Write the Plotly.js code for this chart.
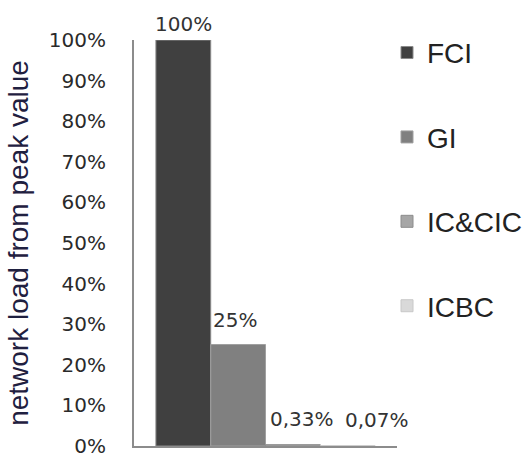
<!DOCTYPE html>
<html>
<head>
<meta charset="utf-8">
<script src="https://cdn.plot.ly/plotly-3.0.1.min.js"></script>
<style>html,body{margin:0;padding:0;background:#fff;}#chart{width:525px;height:454px;}</style>
</head>
<body>
<div id="chart"></div>
<script>
var categories = ['FCI', 'GI', 'IC&CIC', 'ICBC'];
var values = [100, 25, 0.33, 0.07];
var valueLabels = ['100%', '25%', '0,33%', '0,07%'];
var tickValues = [0, 10, 20, 30, 40, 50, 60, 70, 80, 90, 100];
var tickLabels = ['0%', '10%', '20%', '30%', '40%', '50%', '60%', '70%', '80%', '90%', '100%'];

var colors = ['#404040', '#808080', '#a6a6a6', '#d9d9d9'];
var lineColors = ['#8a8a8a', '#a0a0a0', '#8c8c8c', '#c8c8c8'];
var labelXShift = [0, -3, 9, 29];
var labelYShift = [2, 11, 12, 12];

var traces = categories.map(function (c, i) {
  return {
    type: 'bar',
    x: [c],
    y: [values[i]],
    name: c,
    legendgroup: c,
    width: 1,
    marker: {color: colors[i], line: {color: lineColors[i], width: 1}},
    hoverinfo: 'skip'
  };
});

var annotations = categories.map(function (c, i) {
  return {
    x: c, y: values[i], xref: 'x', yref: 'y',
    text: valueLabels[i], showarrow: false,
    xanchor: 'center', yanchor: 'bottom',
    xshift: labelXShift[i], yshift: labelYShift[i],
    font: {family: 'DejaVu Sans', size: 20, color: '#333333'}
  };
});

var layout = {
  width: 525, height: 454,
  margin: {l: 134, r: 128, t: 40, b: 8, autoexpand: false},
  paper_bgcolor: '#ffffff', plot_bgcolor: '#ffffff',
  showlegend: true,
  barmode: 'overlay',
  bargap: 0,
  xaxis: {
    type: 'category', range: [-0.9, 3.9],
    showticklabels: false, ticks: '', showgrid: false, zeroline: false,
    showline: true, linecolor: '#8c8c8c', linewidth: 2
  },
  yaxis: {
    range: [0, 100], tickvals: tickValues, ticktext: tickLabels,
    ticks: '', showgrid: false, zeroline: false,
    showline: true, linecolor: '#8c8c8c', linewidth: 2,
    tickfont: {family: 'DejaVu Sans', size: 20, color: '#2a2a2a'},
    ticklabelstandoff: 22,
    ticklabeloverflow: 'allow',
    automargin: false,
    title: {text: 'network load from peak value', standoff: 12,
      font: {family: 'Liberation Sans', size: 28, color: '#1f2040'}}
  },
  legend: {
    x: 0.962, xanchor: 'left', y: 1.03, yanchor: 'top',
    traceorder: 'grouped', tracegroupgap: 45,
    maxheight: 440,
    font: {family: 'Liberation Sans', size: 28, color: '#222222'},
    itemwidth: 30, bgcolor: 'rgba(0,0,0,0)'
  },
  annotations: annotations
};

Plotly.newPlot('chart', traces, layout, {displayModeBar: false, staticPlot: true});
</script>
</body>
</html>
